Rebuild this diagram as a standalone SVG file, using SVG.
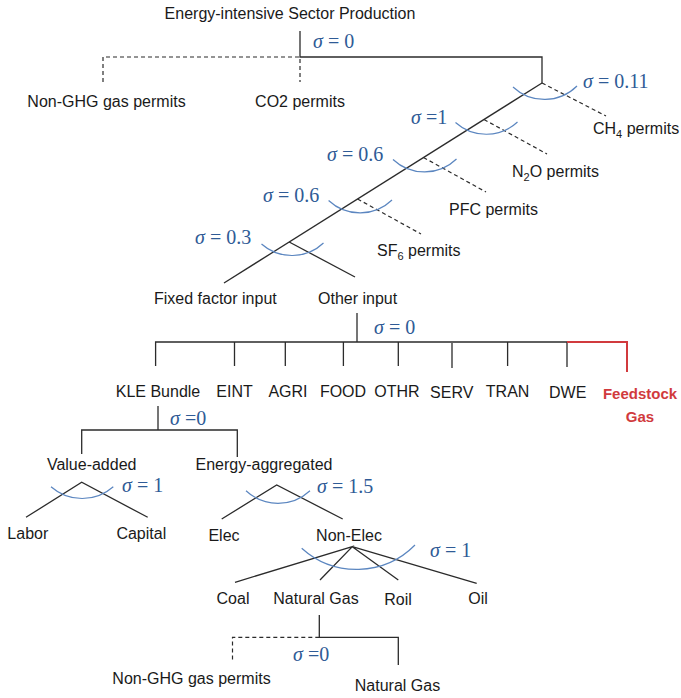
<svg xmlns="http://www.w3.org/2000/svg" width="681" height="698" viewBox="0 0 681 698">
<style>
.t{font-family:"Liberation Sans",Arial,sans-serif;font-size:16px;fill:#1a1a1a}
.m{font-family:"Liberation Serif","Times New Roman",serif;font-size:20px;fill:#2f5b96}
.m .s{font-style:italic}
.sub{font-size:11px}
.red{fill:#d13a3d;font-weight:bold;font-size:15px}
.ln{stroke:#2b2b2b;stroke-width:1.3;fill:none}
.da{stroke:#2b2b2b;stroke-width:1.2;fill:none;stroke-dasharray:4 3}
.rl{stroke:#d13a3d;stroke-width:2;fill:none}
.arc{stroke:#5b86c0;stroke-width:1.2;fill:none}
</style>
<rect width="681" height="698" fill="#ffffff"/>
<g id="connectors">
  <path class="ln" d="M300 31 V57 H542 V83"/>
  <path class="da" d="M103 82 V57 H300 V82"/>
  <path class="ln" d="M542 83 L224 283"/>
  <path class="da" d="M542 83 L606 116"/>
  <path class="da" d="M484 119.5 L547 154"/>
  <path class="da" d="M423.5 157.5 L486 192"/>
  <path class="da" d="M357.6 199 L421 234"/>
  <path class="ln" d="M289.2 242 L355 277"/>
  <path class="ln" d="M357 313 V342"/>
  <path class="ln" d="M155.6 366 V342 H567"/>
  <path class="ln" d="M234.5 342 V366 M285.3 342 V366 M343.4 342 V366 M398.3 342 V366 M452 343 V368 M507.6 342 V366 M567 342 V367"/>
  <path class="rl" d="M567 342 H627 V372"/>
  <path class="ln" d="M158 406 V430"/>
  <path class="ln" d="M81.7 454 V430 H237.3 V457"/>
  <path class="ln" d="M26 517.3 L81.7 482.3 L147.7 517.3"/>
  <path class="ln" d="M221.7 519 L276.7 485 L342.7 519"/>
  <path class="ln" d="M235 582.3 L352.3 546.7 L320 580 M352.3 546.7 L398.3 580 M352.3 546.7 L476.7 583.3"/>
  <path class="ln" d="M319.3 615 V637.3 H398.3 V665"/>
  <path class="da" d="M319.3 637.3 H232.5 V662"/>
  <g class="arc">
    <path d="M513 87 A46 46 0 0 0 577 86"/>
    <path d="M455.5 122.5 A46 46 0 0 0 517.5 122"/>
    <path d="M393 159.5 A46 46 0 0 0 456.5 159"/>
    <path d="M328.6 200.5 A46 46 0 0 0 392 200"/>
    <path d="M261.5 244 A46 46 0 0 0 323.5 243"/>
    <path d="M51 486.7 A47 47 0 0 0 113.3 486.7"/>
    <path d="M246 490.7 A47 47 0 0 0 310 490.7"/>
    <path d="M301.7 548.3 A82 82 0 0 0 415 545"/>
  </g>
</g>
<g id="elasticities">
  <text class="m" x="313" y="48"><tspan class="s">σ</tspan> = 0</text>
  <text class="m" x="583" y="88"><tspan class="s">σ</tspan> = 0.11</text>
  <text class="m" x="411" y="124"><tspan class="s">σ</tspan> =1</text>
  <text class="m" x="327" y="161"><tspan class="s">σ</tspan> = 0.6</text>
  <text class="m" x="263" y="202"><tspan class="s">σ</tspan> = 0.6</text>
  <text class="m" x="195" y="244"><tspan class="s">σ</tspan> = 0.3</text>
  <text class="m" x="374" y="334"><tspan class="s">σ</tspan> = 0</text>
  <text class="m" x="170" y="425"><tspan class="s">σ</tspan> =0</text>
  <text class="m" x="122" y="492"><tspan class="s">σ</tspan> = 1</text>
  <text class="m" x="317" y="493"><tspan class="s">σ</tspan> = 1.5</text>
  <text class="m" x="430" y="557"><tspan class="s">σ</tspan> = 1</text>
  <text class="m" x="293" y="661"><tspan class="s">σ</tspan> =0</text>
</g>
<g id="node-root"><text class="t" x="290" y="19" text-anchor="middle">Energy-intensive Sector Production</text></g>
<g id="node-nonghg-top"><text class="t" x="106.5" y="107" text-anchor="middle">Non-GHG gas permits</text></g>
<g id="node-co2"><text class="t" x="300" y="107" text-anchor="middle">CO2 permits</text></g>
<g id="node-ch4"><text class="t" x="593" y="134">CH<tspan class="sub" dy="4">4</tspan><tspan dy="-4"> permits</tspan></text></g>
<g id="node-n2o"><text class="t" x="512" y="177">N<tspan class="sub" dy="4">2</tspan><tspan dy="-4">O permits</tspan></text></g>
<g id="node-pfc"><text class="t" x="449" y="215">PFC permits</text></g>
<g id="node-sf6"><text class="t" x="377" y="256">SF<tspan class="sub" dy="4">6</tspan><tspan dy="-4"> permits</tspan></text></g>
<g id="node-fixed"><text class="t" x="154" y="304">Fixed factor input</text></g>
<g id="node-other"><text class="t" x="318" y="304">Other input</text></g>
<g id="node-kle"><text class="t" x="158" y="397" text-anchor="middle">KLE Bundle</text></g>
<g id="node-eint"><text class="t" x="234.5" y="397" text-anchor="middle">EINT</text></g>
<g id="node-agri"><text class="t" x="288" y="397" text-anchor="middle">AGRI</text></g>
<g id="node-food"><text class="t" x="343" y="397" text-anchor="middle">FOOD</text></g>
<g id="node-othr"><text class="t" x="397" y="397" text-anchor="middle">OTHR</text></g>
<g id="node-serv"><text class="t" x="451.7" y="398" text-anchor="middle">SERV</text></g>
<g id="node-tran"><text class="t" x="507.6" y="397" text-anchor="middle">TRAN</text></g>
<g id="node-dwe"><text class="t" x="567.7" y="398" text-anchor="middle">DWE</text></g>
<g id="node-feedstock"><text class="t red" x="640" y="399" text-anchor="middle">Feedstock</text><text class="t red" x="640" y="422" text-anchor="middle">Gas</text></g>
<g id="node-va"><text class="t" x="91.7" y="470" text-anchor="middle">Value-added</text></g>
<g id="node-ea"><text class="t" x="264" y="470" text-anchor="middle">Energy-aggregated</text></g>
<g id="node-labor"><text class="t" x="27.8" y="539" text-anchor="middle">Labor</text></g>
<g id="node-capital"><text class="t" x="141.3" y="539" text-anchor="middle">Capital</text></g>
<g id="node-elec"><text class="t" x="224" y="541" text-anchor="middle">Elec</text></g>
<g id="node-nonelec"><text class="t" x="349" y="541" text-anchor="middle">Non-Elec</text></g>
<g id="node-coal"><text class="t" x="233" y="604" text-anchor="middle">Coal</text></g>
<g id="node-natgas"><text class="t" x="316" y="604" text-anchor="middle">Natural Gas</text></g>
<g id="node-roil"><text class="t" x="398" y="605" text-anchor="middle">Roil</text></g>
<g id="node-oil"><text class="t" x="478" y="604" text-anchor="middle">Oil</text></g>
<g id="node-nonghg-bottom"><text class="t" x="191.5" y="684" text-anchor="middle">Non-GHG gas permits</text></g>
<g id="node-natgas-bottom"><text class="t" x="397.5" y="691" text-anchor="middle">Natural Gas</text></g>
</svg>
